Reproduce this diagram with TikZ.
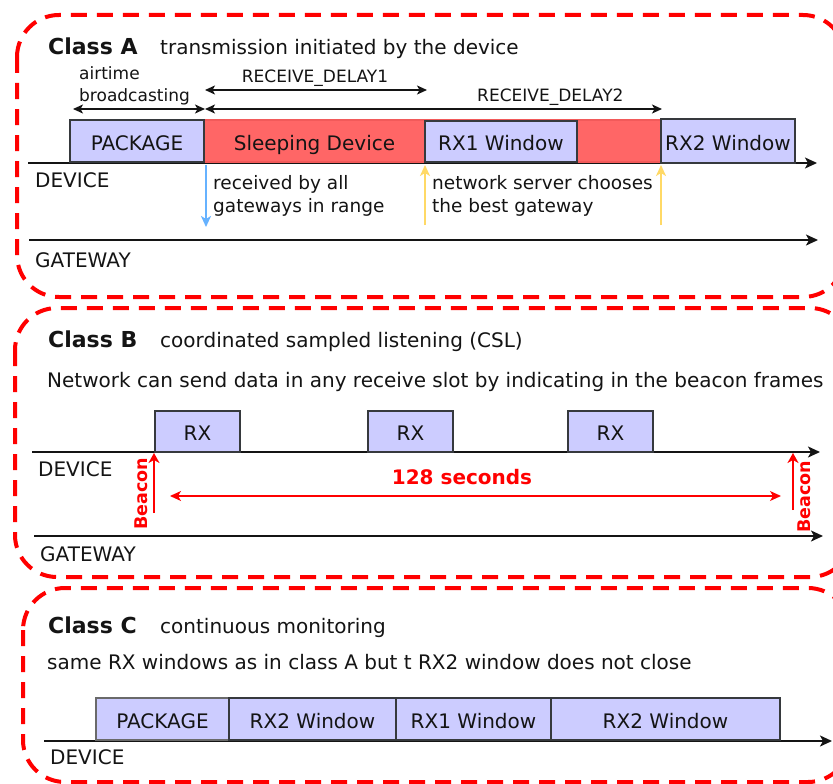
\documentclass[tikz,border=0pt]{standalone}
\usepackage{fontspec}
\setmainfont{DejaVu Sans}
\usetikzlibrary{arrows.meta,calc}
\definecolor{frameRed}{HTML}{FF0000}
\definecolor{boxFill}{HTML}{CCCCFF}
\definecolor{boxLine}{HTML}{36393D}
\definecolor{boxLineSoft}{HTML}{6A6A6A}
\definecolor{sleepRed}{HTML}{FF6666}
\definecolor{sleepLine}{HTML}{F25A5A}
\definecolor{rxBlue}{HTML}{66B2FF}
\definecolor{nsYellow}{HTML}{FFD966}
\definecolor{ink}{HTML}{141414}

\begin{document}
\begin{tikzpicture}[x=1pt,y=-1pt,
  frame/.style={draw=frameRed, line width=4pt, dash pattern=on 16pt off 10pt, rounded corners=42pt},
  win/.style={draw=boxLine, fill=boxFill, line width=2pt, inner sep=0pt,
    text height=18pt, text depth=0pt, text=ink, font=\fontsize{20}{24}\selectfont},
  sleepbox/.style={draw=sleepLine, fill=sleepRed, line width=1.5pt, inner sep=0pt},
  boxtext/.style={inner sep=0pt, text height=18pt, text depth=0pt, text=ink, font=\fontsize{20}{24}\selectfont},
  title/.style={inner sep=0pt, anchor=base west, text=ink, font=\fontsize{22}{26}\selectfont\bfseries},
  txt/.style={inner sep=0pt, anchor=base west, text=ink, font=\fontsize{20}{24}\selectfont},
  note/.style={inner sep=0pt, anchor=base west, text=ink, font=\fontsize{18.5}{22}\selectfont},
  dimlabel/.style={inner sep=0pt, text=ink, font=\fontsize{17}{20}\selectfont},
  timeline/.style={draw=ink, line width=1.6pt, -{Stealth[length=12pt,width=11pt,inset=3pt]}},
  dimarrow/.style={draw=ink, line width=1.4pt,
    {Stealth[length=10pt,width=9pt,inset=2.5pt]}-{Stealth[length=10pt,width=9pt,inset=2.5pt]}},
  signal/.style={line width=1.8pt, -{Stealth[length=11pt,width=10pt,inset=3pt]}},
  beacon/.style={draw=frameRed, line width=1.8pt, -{Stealth[length=10pt,width=11pt,inset=3pt]}},
  beaconlabel/.style={inner sep=0pt, anchor=base, rotate=90, text=frameRed, font=\fontsize{17.5}{20}\selectfont\bfseries},
  period/.style={draw=frameRed, line width=1.4pt,
    {Stealth[length=11pt,width=10pt,inset=3pt]}-{Stealth[length=11pt,width=10pt,inset=3pt]}}
]
\useasboundingbox (0,0) rectangle (833,784);
\clip (0,0) rectangle (833,784);
\fill[white] (0,0) rectangle (833,784);

% ---------------- frames ----------------
\draw[frame] (17,15) rectangle (845,297);
\draw[frame] (15,308) rectangle (852,577);
\draw[frame] (23,588) rectangle (850,782);

% ---------------- Class A ----------------
\node[title] (ttlA) at (48,55) {Class A};
\node[txt] (subA) at (160,55) {transmission initiated by the device};

\coordinate (devA0) at (28,163);
\coordinate (devA1) at (817,163);
\coordinate (gwA0) at (29,240);
\coordinate (gwA1) at (818,240);
\draw[timeline] (devA0) -- (devA1);
\draw[timeline] (gwA0) -- (gwA1);
\node[txt] (devAlbl) at (35,187) {DEVICE};
\node[txt] (gwAlbl) at (35,267) {GATEWAY};

\node[sleepbox, minimum width=458pt, minimum height=42pt] (sleepA) at (433,141) {};
\node[win, minimum width=134pt, minimum height=42pt] (pkgA) at (137,141) {PACKAGE};
\node[win, minimum width=152pt, minimum height=41pt] (rx1A) at (501,141.5) {RX1 Window};
\node[win, minimum width=134pt, minimum height=44pt] (rx2A) at (728,141) {RX2 Window};
\node[boxtext] (sleepAlbl) at ($(pkgA.east)!0.5!(rx1A.west)$) {Sleeping Device};

% timing annotations
\node[note, font=\fontsize{17}{20}\selectfont] (airT) at (79,80) {airtime};
\node[note, font=\fontsize{17}{20}\selectfont] (airB) at (79,102) {broadcasting};
\coordinate (airL) at (73,109);
\coordinate (airR) at (205,109);
\draw[dimarrow] (airL) -- (airR);

\coordinate (rd1L) at (205,90);
\coordinate (rd1R) at (427,90);
\draw[dimarrow] (rd1L) -- (rd1R);
\node[dimlabel, anchor=base] (rd1lbl) at (315,83) {RECEIVE\_DELAY1};

\coordinate (rd2L) at (205,109);
\coordinate (rd2R) at (662,109);
\draw[dimarrow] (rd2L) -- (rd2R);
\node[dimlabel, anchor=base west] (rd2lbl) at (477,102) {RECEIVE\_DELAY2};

% uplink / downlink hints
\coordinate (upS) at (206,165);
\coordinate (upE) at (206,227);
\draw[signal, draw=rxBlue] (upS) -- (upE);
\node[note] (recv1) at (213,189) {received by all};
\node[note] (recv2) at (213,212) {gateways in range};

\coordinate (ns1S) at (425,225);
\coordinate (ns1E) at (425,165);
\coordinate (ns2S) at (661,225);
\coordinate (ns2E) at (661,165);
\draw[signal, draw=nsYellow] (ns1S) -- (ns1E);
\draw[signal, draw=nsYellow] (ns2S) -- (ns2E);
\node[note] (ns1) at (432,189) {network server chooses};
\node[note] (ns2) at (432,212) {the best gateway};

% ---------------- Class B ----------------
\node[title] (ttlB) at (48,347) {Class B};
\node[txt] (subB) at (160,347) {coordinated sampled listening (CSL)};
\node[txt] (descB) at (47,387) {Network can send data in any receive slot by indicating in the beacon frames};

\coordinate (devB0) at (32,452);
\coordinate (devB1) at (820,452);
\coordinate (gwB0) at (34,536);
\coordinate (gwB1) at (823,536);
\draw[timeline] (devB0) -- (devB1);
\draw[timeline] (gwB0) -- (gwB1);
\node[txt] (devBlbl) at (38,476) {DEVICE};
\node[txt] (gwBlbl) at (40,561) {GATEWAY};

\node[win, minimum width=85pt, minimum height=41pt] (rxB1) at (197.5,431.5) {RX};
\node[win, minimum width=85pt, minimum height=41pt] (rxB2) at (410.5,431.5) {RX};
\node[win, minimum width=85pt, minimum height=41pt] (rxB3) at (610.5,431.5) {RX};

\coordinate (bcn1S) at (154,513);
\coordinate (bcn1E) at (154,453);
\coordinate (bcn2S) at (793,510);
\coordinate (bcn2E) at (793,453);
\draw[beacon] (bcn1S) -- (bcn1E);
\draw[beacon] (bcn2S) -- (bcn2E);
\node[beaconlabel] (bcn1lbl) at (147,494) {Beacon};
\node[beaconlabel] (bcn2lbl) at (810,497) {Beacon};

\coordinate (perL) at (170,496);
\coordinate (perR) at (781,496);
\draw[period] (perL) -- (perR);
\node[inner sep=0pt, anchor=base, text=frameRed, font=\fontsize{20}{24}\selectfont\bfseries] (perlbl) at (462,484) {128 seconds};

% ---------------- Class C ----------------
\node[title] (ttlC) at (48,633) {Class C};
\node[txt] (subC) at (160,633) {continuous monitoring};
\node[txt] (descC) at (47,669) {same RX windows as in class A but t RX2 window does not close};

\coordinate (devC0) at (44,741);
\coordinate (devC1) at (832,741);
\draw[timeline] (devC0) -- (devC1);
\node[txt] (devClbl) at (50,764) {DEVICE};

\node[win, draw=boxLineSoft, minimum width=133pt, minimum height=42pt] (pkgC) at (162.5,719) {PACKAGE};
\node[win, minimum width=167pt, minimum height=42pt] (rx2C) at (312.5,719) {RX2 Window};
\node[win, minimum width=155pt, minimum height=42pt] (rx1C) at (473.5,719) {RX1 Window};
\node[win, minimum width=229pt, minimum height=42pt] (rx2Cb) at (665.5,719) {RX2 Window};
\end{tikzpicture}
\end{document}
